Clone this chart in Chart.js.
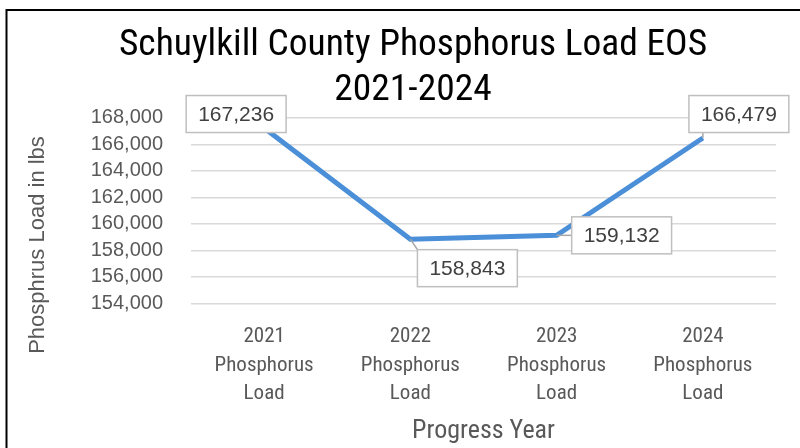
<!DOCTYPE html>
<html>
<head>
<meta charset="utf-8">
<script src="https://cdn.jsdelivr.net/npm/chart.js@4"></script>
<style>
  html, body { margin: 0; padding: 0; background: #fff; overflow: hidden; }
  #wrap { position: relative; width: 826px; height: 448px; }
</style>
</head>
<body>
<div id="wrap"><canvas id="loadChart" width="826" height="448"></canvas></div>
<script>
const years = ["2021", "2022", "2023", "2024"];
const categories = years.map((y) => [y, "Phosphorus", "Load"]);
const phosphorusLoad = [167236, 158843, 159132, 166479];
const yTicks = { min: 154000, max: 168000, step: 2000 };

const NARROW = "'Liberation Sans Narrow', 'Arial Narrow', 'Roboto Condensed', sans-serif";
const SANS = "'Liberation Sans', Arial, sans-serif";

// where each value box sits relative to its point (dx, dy of box centre)
const labelOffsets = [
  [-28, -14],
  [57, 29],
  [65, 0],
  [36, -24],
];

const fmt = (v) => v.toLocaleString("en-US");

const valueBoxes = {
  id: "valueBoxes",
  afterDatasetsDraw(chart) {
    const ctx = chart.ctx;
    const meta = chart.getDatasetMeta(0);
    ctx.save();
    ctx.font = "21px " + SANS;
    ctx.textAlign = "center";
    ctx.textBaseline = "middle";
    meta.data.forEach((pt, i) => {
      const text = fmt(phosphorusLoad[i]);
      const w = ctx.measureText(text).width + 24;
      const h = 37;
      const cx = pt.x + labelOffsets[i][0];
      const cy = pt.y + labelOffsets[i][1];
      const x0 = cx - w / 2, y0 = cy - h / 2;
      // leader line to nearest edge point of the box
      const ex = Math.max(x0, Math.min(pt.x, x0 + w));
      const ey = Math.max(y0, Math.min(pt.y, y0 + h));
      ctx.strokeStyle = "#a6a6a6";
      ctx.lineWidth = 1.5;
      ctx.beginPath();
      ctx.moveTo(pt.x, pt.y);
      ctx.lineTo(ex, ey);
      ctx.stroke();
      ctx.fillStyle = "#fff";
      ctx.fillRect(x0, y0, w, h);
      ctx.strokeStyle = "#bfbfbf";
      ctx.lineWidth = 1.5;
      ctx.strokeRect(x0, y0, w, h);
      ctx.fillStyle = "#404040";
      ctx.fillText(text, cx, cy + 1);
    });
    ctx.restore();
  },
};

const frameAndYTitle = {
  id: "frameAndYTitle",
  afterDraw(chart) {
    const ctx = chart.ctx;
    ctx.save();
    ctx.translate(38, 245);
    ctx.rotate(-Math.PI / 2);
    ctx.font = "22px " + SANS;
    ctx.fillStyle = "#595959";
    ctx.textAlign = "center";
    ctx.textBaseline = "middle";
    ctx.fillText("Phosphrus Load in lbs", 0, 0);
    ctx.restore();
    ctx.save();
    ctx.strokeStyle = "#000";
    ctx.lineWidth = 2;
    ctx.strokeRect(6.5, 10, 900, 600);
    ctx.restore();
  },
};

new Chart(document.getElementById("loadChart"), {
  type: "line",
  data: {
    labels: categories,
    datasets: [
      {
        label: "Phosphorus Load",
        data: phosphorusLoad,
        borderColor: "#4a8fd8",
        borderWidth: 5,
        pointRadius: 0,
        tension: 0,
        fill: false,
      },
    ],
  },
  options: {
    responsive: false,
    animation: false,
    layout: { padding: 0 },
    plugins: {
      legend: { display: false },
      tooltip: { enabled: false },
      title: {
        display: true,
        text: ["Schuylkill County Phosphorus Load EOS", "2021-2024"],
        color: "#000",
        font: { family: NARROW, size: 37.5, weight: "normal", lineHeight: 1.2 },
        padding: { top: 22.8, bottom: 5.1 },
      },
    },
    scales: {
      x: {
        type: "category",
        offset: true,
        grid: { display: false },
        border: { display: false },
        ticks: {
          color: "#595959",
          font: { family: NARROW, size: 21, lineHeight: 1.36 },
          padding: 11.5,
          maxRotation: 0,
          autoSkip: false,
        },
        title: {
          display: true,
          text: "Progress Year",
          color: "#595959",
          font: { family: NARROW, size: 26, lineHeight: 1.2 },
          padding: { top: 0, bottom: 0.5 },
        },
        afterFit(scale) {
          scale.height = 144.7;
        },
      },
      y: {
        min: yTicks.min,
        max: yTicks.max,
        grid: { color: "#d9d9d9", lineWidth: 1.5, drawTicks: false },
        border: { display: false },
        ticks: {
          stepSize: yTicks.step,
          autoSkip: false,
          color: "#595959",
          font: { family: SANS, size: 20 },
          padding: 28,
          callback: (v) => fmt(v),
        },
        afterFit(scale) {
          scale.width = 191;
        },
      },
      // empty right-hand strip so the title stays centred on the whole frame
      yRight: {
        position: "right",
        min: yTicks.min,
        max: yTicks.max,
        grid: { display: false },
        border: { display: false },
        ticks: { display: false },
        afterFit(scale) {
          scale.width = 50;
        },
      },
    },
  },
  plugins: [valueBoxes, frameAndYTitle],
});
</script>
</body>
</html>
